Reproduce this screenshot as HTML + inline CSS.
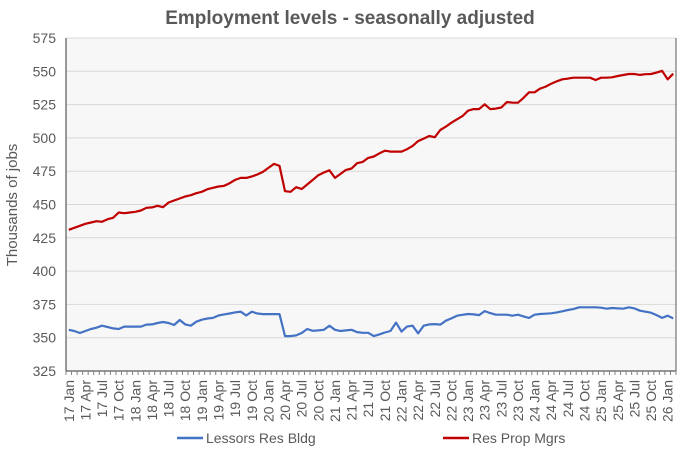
<!DOCTYPE html>
<html><head><meta charset="utf-8"><style>
body{margin:0;background:#fff;}
svg text{font-family:"Liberation Sans",Arial,sans-serif;fill:#595959;}
</style></head><body>
<svg id="chart" width="696" height="450" xmlns="http://www.w3.org/2000/svg">
<rect width="696" height="450" fill="#fff"/>
<text x="350" y="24" text-anchor="middle" font-size="19" font-weight="bold">Employment levels - seasonally adjusted</text>
<rect x="66" y="38" width="610" height="333" fill="#f7f7f7"/>
<g id="grid"></g><g id="yticks"></g><g id="xticks"></g><g id="series"></g>
<text transform="translate(17,205) rotate(-90)" text-anchor="middle" font-size="15">Thousands  of jobs</text>
<g>
<line x1="177" y1="438" x2="203" y2="438" stroke="#4472c4" stroke-width="2.5"/>
<text x="206" y="443" font-size="14">Lessors Res Bldg</text>
<line x1="443" y1="438" x2="469" y2="438" stroke="#c00000" stroke-width="2.5"/>
<text x="472" y="443" font-size="14">Res Prop Mgrs</text>
</g>
</svg>
<script>
const yTicks=[325,350,375,400,425,450,475,500,525,550,575];
const months=["Jan","Apr","Jul","Oct"];
const lessors=[355.9,355,353.5,355,356.5,357.5,359,358,357,356.5,358.3,358.3,358.3,358.3,359.8,360,361,361.8,361,359.5,363.3,360,359,362,363.5,364.4,364.9,366.7,367.5,368.2,369,369.5,366.7,369.5,368.2,367.7,367.7,367.7,367.7,351.2,351.2,351.7,353.5,356.5,355.2,355.5,355.9,359,355.9,355,355.5,355.9,354.2,353.7,353.7,351.2,352.5,353.9,355,361.3,354.6,358.3,359,353.2,359,360,360.2,359.8,362.8,364.5,366.5,367.2,367.8,367.5,367,370,368.5,367.3,367.3,367.3,366.5,367.3,366,364.9,367.3,367.8,368,368.3,369,369.8,370.8,371.5,372.8,372.8,372.8,372.8,372.5,371.8,372.3,372,371.8,372.8,372,370.3,369.5,368.8,367,364.9,366.5,364.5];
const mgrs=[431,432.5,434,435.5,436.5,437.5,437,439,440,444,443.5,444,444.5,445.5,447.5,447.8,449,448,451.5,453,454.5,456,457,458.5,459.5,461.5,462.5,463.5,464,466,468.5,470,470,471,472.5,474.5,477.5,480.5,479,460,459.5,463,461.6,465,468.5,472,474,475.7,470,473,476,477,481,482,485,486,488.4,490.4,489.7,489.7,489.7,491.5,494,497.6,499.5,501.4,500.5,505.9,508.5,511.4,514,516.4,520.4,521.6,521.6,525.2,521.6,522,522.8,526.9,526.5,526.4,530,534.2,534.2,537,538.5,540.7,542.5,544,544.5,545.2,545.2,545.2,545.2,543.5,545.2,545.2,545.5,546.5,547.2,548,548,547.3,547.8,548,549,550.4,543.9,548.2];
const X0=66,X1=676,Y0=371,Y1=38,N=110;
const bw=(X1-X0)/N;
const xs=i=>X0+bw*(i+0.5);
const ys=v=>Y0-(v-325)/(575-325)*(Y0-Y1);
const NS="http://www.w3.org/2000/svg";
function mk(tag,attrs,parent){const e=document.createElementNS(NS,tag);for(const k in attrs)e.setAttribute(k,attrs[k]);parent.appendChild(e);return e;}
const grid=document.getElementById('grid'),yt=document.getElementById('yticks'),xt=document.getElementById('xticks'),ser=document.getElementById('series');
yTicks.forEach(v=>{
 if(v>325){const l=mk('line',{x1:X0,x2:X1,y1:ys(v),y2:ys(v),stroke:'#d9d9d9','stroke-width':1},grid);
 
 }
 const t=mk('text',{x:56,y:ys(v)+5,'text-anchor':'end','font-size':14},yt);t.textContent=v;
 
 
});
const ax=mk('line',{x1:X0,x2:X0,y1:Y1,y2:Y0,stroke:'#595959','stroke-width':1.2},xt);


const bx=mk('line',{x1:X0,x2:X1,y1:Y0,y2:Y0,stroke:'#595959','stroke-width':1.2},xt);


const rx=mk('line',{x1:X1,x2:X1,y1:Y1,y2:Y0,stroke:'#595959','stroke-width':1},xt);


for(let i=0;i<=N;i++){const x=X0+bw*i;const tk=mk('line',{x1:x,x2:x,y1:Y0,y2:Y0+4,stroke:'#808080','stroke-width':1},xt);
 
 }
for(let i=0;i<N;i+=3){
 const yr=17+Math.floor(i/12),m=months[(i%12)/3];
 const x=xs(i)+5;
 const t=mk('text',{transform:`translate(${x},380) rotate(-90)`,'text-anchor':'end','font-size':14},xt);
 t.textContent=yr+' '+m;
 
 
}
function line(data,color,name){
 const d=data.map((v,i)=>(i?'L':'M')+xs(i).toFixed(1)+' '+ys(v).toFixed(1)).join(' ');
 const p=mk('path',{d:d,fill:'none',stroke:color,'stroke-width':2.2,'stroke-linejoin':'round'},ser);
 
 
}
line(lessors,'#4472c4','lessors-res-bldg-line');
line(mgrs,'#c00000','res-prop-mgrs-line');
</script>
</body></html>
